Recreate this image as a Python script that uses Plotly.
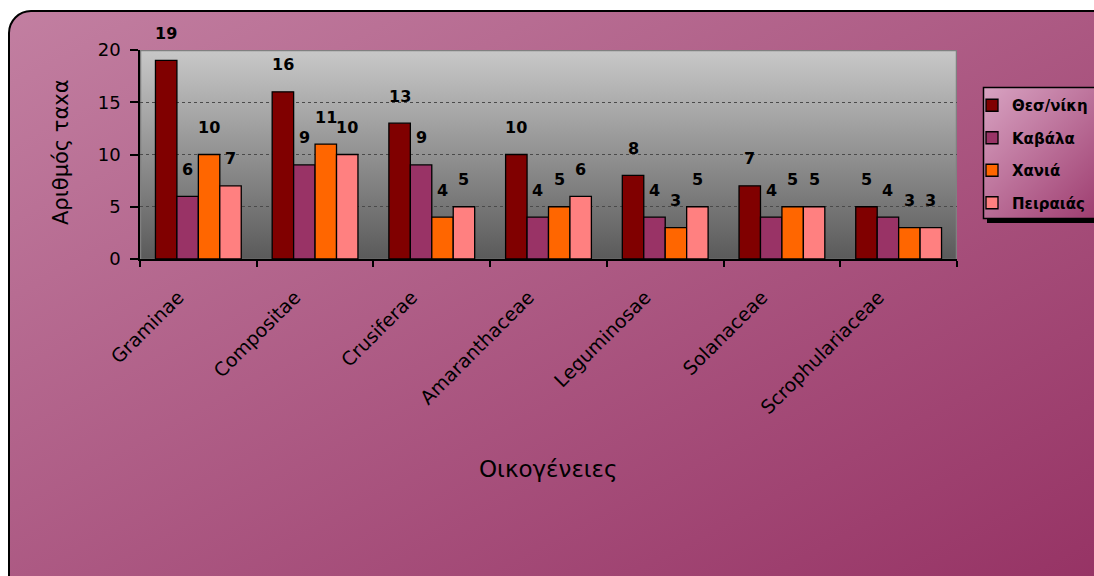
import base64
import plotly.graph_objects as go

categories = ["Graminae", "Compositae", "Crusiferae", "Amaranthaceae",
              "Leguminosae", "Solanaceae", "Scrophulariaceae"]
series_names = ["Θεσ/νίκη", "Καβάλα", "Χανιά", "Πειραιάς"]
thes = [19, 16, 13, 10, 8, 7, 5]
kavala = [6, 9, 9, 4, 4, 4, 4]
chania = [10, 11, 4, 5, 3, 5, 3]
peiraias = [7, 10, 5, 6, 5, 5, 3]
series_values = [thes, kavala, chania, peiraias]
colors = ["#800000", "#993366", "#FF6600", "#FF8080"]
y_ticks = [0, 5, 10, 15, 20]

W, H = 1094, 576
ML, MR, MT, MB = 140, 137, 50, 317
PW, PH = W - ML - MR, H - MT - MB
FONT = "Comic Sans MS, DejaVu Sans, sans-serif"

def svg_uri(svg):
    return "data:image/svg+xml;base64," + base64.b64encode(svg.encode("utf-8")).decode()

bg_svg = f"""<svg xmlns='http://www.w3.org/2000/svg' width='{W}' height='{H}' viewBox='0 0 {W} {H}' preserveAspectRatio='none'>
<defs>
<linearGradient id='g' x1='0' y1='0' x2='1' y2='1'>
<stop offset='0' stop-color='#c27fa1'/><stop offset='1' stop-color='#953163'/></linearGradient>
<linearGradient id='lg' x1='0' y1='0' x2='1' y2='1'>
<stop offset='0' stop-color='#d8a3c2'/><stop offset='1' stop-color='#9a366a'/></linearGradient>
</defs>
<rect x='9' y='11' width='1110' height='590' rx='22' ry='22' fill='url(#g)' stroke='black' stroke-width='2'/>
<rect x='987' y='91' width='130' height='132' fill='black'/>
<rect x='983.5' y='87.5' width='130' height='131' fill='url(#lg)' stroke='black' stroke-width='1.5'/>
</svg>"""

plot_svg = f"""<svg xmlns='http://www.w3.org/2000/svg' width='{PW}' height='{PH}' viewBox='0 0 {PW} {PH}' preserveAspectRatio='none'>
<defs><linearGradient id='p' x1='0' y1='0' x2='0' y2='1'>
<stop offset='0' stop-color='#c8c8c8'/><stop offset='1' stop-color='#5a5a5a'/></linearGradient></defs>
<rect x='0.5' y='0.5' width='{PW-1}' height='{PH}' fill='url(#p)' stroke='#808080' stroke-width='1.5'/>
</svg>"""

fig = go.Figure()
for i, (name, vals, col) in enumerate(zip(series_names, series_values, colors)):
    fig.add_trace(go.Bar(
        x=categories, y=vals, name=name, legendgroup=name,
        marker=dict(color=col, line=dict(color="black", width=1.3)),
    ))

# data labels
cat_px = PW / len(categories)
bargap = 0.265
bar_px = cat_px * (1 - bargap) / len(series_names)
annotations = []
for i, vals in enumerate(series_values):
    for c, v in zip(categories, vals):
        annotations.append(dict(
            x=c, y=v, xref="x", yref="y", text=f"<b>{v}</b>", showarrow=False,
            xshift=(i - 1.5) * bar_px, yshift=27, yanchor="middle",
            font=dict(family=FONT, size=16, color="black")))

annotations.append(dict(text="Αριθμός ταxα", textangle=-90, showarrow=False,
                        xref="paper", yref="paper", x=(61 - ML) / PW, y=(H - MB - 152) / PH,
                        xanchor="center", yanchor="middle",
                        font=dict(family=FONT, size=21, color="black")))
annotations.append(dict(text="Οικογένειες", showarrow=False,
                        xref="paper", yref="paper", x=0.5, y=-(469 - MT - PH) / PH,
                        xanchor="center", yanchor="middle",
                        font=dict(family="DejaVu Sans, sans-serif", size=23, color="black")))

fig.update_layout(
    width=W, height=H,
    margin=dict(l=ML, r=MR, t=MT, b=MB, autoexpand=False),
    paper_bgcolor="white", plot_bgcolor="rgba(0,0,0,0)",
    barmode="group", bargap=bargap, bargroupgap=0,
    showlegend=True,
    legend=dict(x=(972 - ML) / PW, y=(H - MB - 89) / PH, xanchor="left", yanchor="top",
                bgcolor="rgba(0,0,0,0)", borderwidth=0,
                font=dict(family=FONT, size=15, color="black", weight="bold"),
                tracegroupgap=10, traceorder="grouped"),
    annotations=annotations,
    images=[
        dict(source=svg_uri(bg_svg), xref="paper", yref="paper",
             x=-ML / PW, y=1 + MT / PH, sizex=W / PW, sizey=H / PH,
             xanchor="left", yanchor="top", sizing="stretch", layer="below"),
        dict(source=svg_uri(plot_svg), xref="paper", yref="paper",
             x=0, y=1, sizex=1, sizey=1, xanchor="left", yanchor="top",
             sizing="stretch", layer="below"),
    ],
)
fig.update_xaxes(
    showline=True, linecolor="black", linewidth=1.5,
    ticks="outside", tickson="boundaries", ticklen=6, tickcolor="black", tickwidth=1.5,
    tickangle=-45, tickfont=dict(family=FONT, size=19, color="black"),
    ticklabelstandoff=18, ticklabelshift=-20,
    showgrid=False,
)
fig.update_yaxes(
    range=[0, 20], tickvals=y_ticks, showline=True, linecolor="black", linewidth=1.5,
    ticks="outside", ticklen=8, tickcolor="black", tickwidth=1.5,
    ticklabelstandoff=6,
    tickfont=dict(family=FONT, size=18, color="black"),
    showgrid=True, gridcolor="#4a4a4a", griddash="dot", gridwidth=1,
    zeroline=False,
)
fig.write_html("out.html")
